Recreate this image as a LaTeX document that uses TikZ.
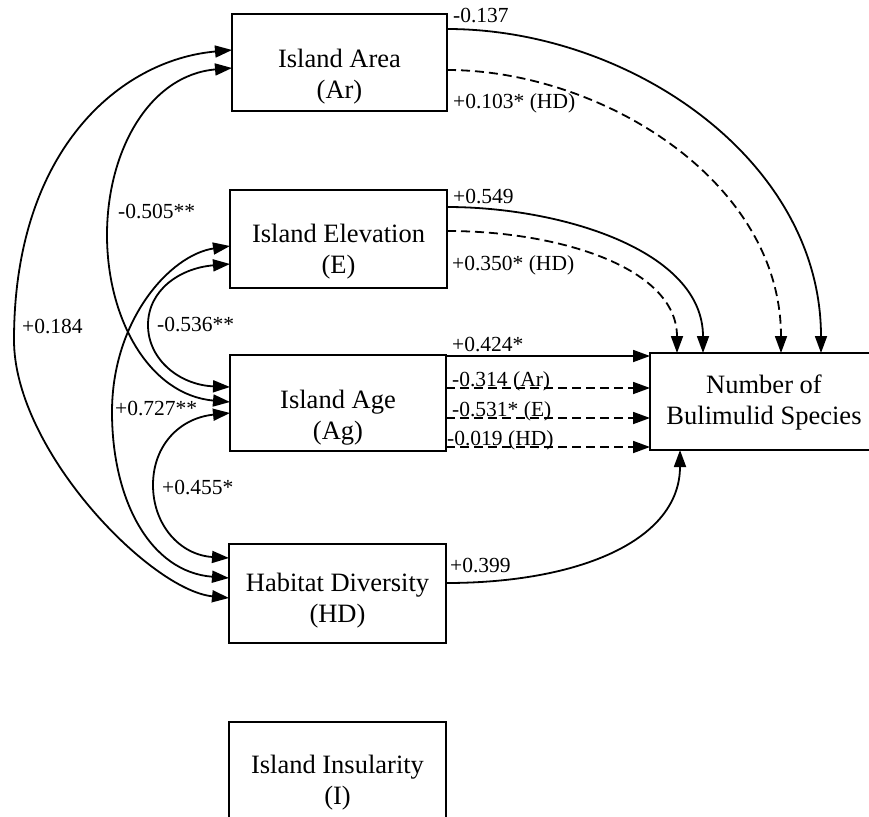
\documentclass[tikz,border=0pt]{standalone}
\usepackage{fontspec}
\setmainfont{Liberation Serif}
\usetikzlibrary{arrows.meta,calc}
\begin{document}
\begin{tikzpicture}[x=1pt,y=-1pt,
  box/.style={draw,line width=1.9pt,inner sep=0pt,outer sep=0pt},
  boxtext/.style={font=\fontsize{26.5}{31}\selectfont,align=center,anchor=north,inner sep=0pt},
  lab/.style={font=\fontsize{21.5}{24}\selectfont,anchor=base west,inner sep=0pt},
  conn/.style={line width=1.8pt,-{Triangle[length=17pt,width=12pt]}},
  corr/.style={line width=1.8pt,{Triangle[length=17pt,width=12pt]}-{Triangle[length=17pt,width=12pt]}},
  dconn/.style={conn,dash pattern=on 9pt off 5pt}
]
\useasboundingbox (0,0) rectangle (869,816);

% boxes
\node[box,minimum width=215pt,minimum height=97pt] (ar) at (339.5,62.5) {};
\node[box,minimum width=217pt,minimum height=98pt] (el) at (338.5,239) {};
\node[box,minimum width=216pt,minimum height=96pt] (ag) at (338,403) {};
\node[box,minimum width=217pt,minimum height=99pt] (hd) at (337.5,593.5) {};
\node[box,minimum width=217pt,minimum height=100pt] (ins) at (337.5,772) {};
\node[box,minimum width=228pt,minimum height=97pt] (num) at (764,401.5) {};

% box texts
\node[boxtext] (ar-t) at (339.5,49) {Island Area\\(Ar)};
\node[boxtext] (el-t) at (338.5,224) {Island Elevation\\(E)};
\node[boxtext] (ag-t) at (338,390) {Island Age\\(Ag)};
\node[boxtext] (hd-t) at (337.5,573) {Habitat Diversity\\(HD)};
\node[boxtext] (ins-t) at (337.5,755) {Island Insularity\\(I)};
\node[boxtext] (num-t) at (764,375) {Number of\\Bulimulid Species};

% correlations (left)
\draw[corr] ($(ar.west)+(0,-12.5)$) .. controls (120,60) and (14,150) .. (14,340)
  .. controls (14,450) and (150,590) .. ($(hd.west)+(0,4.5)$);
\draw[corr] ($(ar.west)+(0,5.5)$) .. controls (150,75) and (107,150) .. (107,235)
  .. controls (107,320) and (150,395) .. ($(ag.west)+(0,-1)$);
\draw[corr] ($(el.west)+(0,25)$) .. controls (180,268) and (148,290) .. (148,325)
  .. controls (148,360) and (180,385) .. ($(ag.west)+(0,-16)$);
\draw[corr] ($(el.west)+(0,7)$) .. controls (170,255) and (112,320) .. (112,412)
  .. controls (112,500) and (150,572) .. ($(hd.west)+(0,-15.5)$);
\draw[corr] ($(ag.west)+(0,10)$) .. controls (180,418) and (153,445) .. (153,485)
  .. controls (153,525) and (180,555) .. ($(hd.west)+(0,-35.5)$);

% paths to number of species
\draw[conn] ($(ar.east)+(0,-33.5)$) .. controls (630,29) and (821,160) .. ($(num.north)+(57,0)$);
\draw[dconn] ($(ar.east)+(0,7.5)$) .. controls (600,70) and (781,180) .. ($(num.north)+(17,0)$);
\draw[conn] ($(el.east)+(0,-32)$) .. controls (560,207) and (703,250) .. ($(num.north)+(-61,0)$);
\draw[dconn] ($(el.east)+(0,-8)$) .. controls (560,231) and (677,268) .. ($(num.north)+(-87,0)$);
\draw[conn] ($(ag.east)+(0,-47)$) -- ($(num.west)+(0,-45.5)$);
\draw[dconn] ($(ag.east)+(0,-15)$) -- ($(num.west)+(0,-13.5)$);
\draw[dconn] ($(ag.east)+(0,15)$) -- ($(num.west)+(0,16.5)$);
\draw[dconn] ($(ag.east)+(0,44)$) -- ($(num.west)+(0,45.5)$);
\draw[conn] ($(hd.east)+(0,-10.5)$) .. controls (580,583) and (680,540) .. ($(num.south)+(-84,0)$);

% labels
\node[lab] (l1) at (453,23) {-0.137};
\node[lab] (l2) at (453,108) {+0.103* (HD)};
\node[lab] (l3) at (453,203) {+0.549};
\node[lab] (l4) at (452,270) {+0.350* (HD)};
\node[lab] (l5) at (452,351) {+0.424*};
\node[lab] (l6) at (452,386) {-0.314 (Ar)};
\node[lab] (l7) at (452,416) {-0.531* (E)};
\node[lab] (l8) at (447,445) {-0.019 (HD)};
\node[lab] (l9) at (450,572) {+0.399};
\node[lab] (l10) at (118,218) {-0.505**};
\node[lab] (l11) at (22,333) {+0.184};
\node[lab] (l12) at (157,331) {-0.536**};
\node[lab] (l13) at (115,415) {+0.727**};
\node[lab] (l14) at (162,494) {+0.455*};
\end{tikzpicture}
\end{document}
